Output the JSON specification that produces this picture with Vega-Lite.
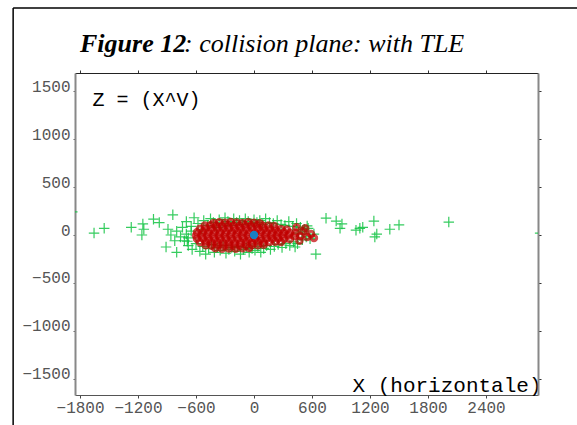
{
  "$schema": "https://vega.github.io/schema/vega-lite/v6.json",
  "width": 463,
  "height": 322,
  "autosize": {"type": "none"},
  "padding": {"left": 75, "top": 73, "right": 39, "bottom": 30},
  "background": "white",
  "title": {
    "text": "Figure 12",
    "subtitle": "\u200b\u00a0\u00a0\u00a0\u00a0\u00a0\u00a0\u00a0\u00a0\u00a0\u00a0\u00a0\u00a0\u00a0\u00a0\u00a0\u00a0: collision plane: with TLE",
    "anchor": "start",
    "frame": "group",
    "dx": 5,
    "dy": 63,
    "offset": 13,
    "font": "Liberation Serif",
    "fontSize": 26,
    "fontStyle": "italic",
    "fontWeight": "bold",
    "color": "black",
    "subtitleFont": "Liberation Serif",
    "subtitleFontSize": 26,
    "subtitleFontStyle": "italic",
    "subtitleFontWeight": "normal",
    "subtitleColor": "black",
    "subtitlePadding": -26
  },
  "datasets": {
    "green": [
      {"x": -1655, "z": 20}, {"x": -1550, "z": 70}, {"x": -1270, "z": 80}, {"x": -1150, "z": 115},
      {"x": -1140, "z": 60}, {"x": -1160, "z": 0}, {"x": -1040, "z": 165}, {"x": -980, "z": 130},
      {"x": -840, "z": 210}, {"x": -890, "z": 60}, {"x": -910, "z": -125}, {"x": -800, "z": -180},
      {"x": -690, "z": -65}, {"x": 745, "z": 175}, {"x": 850, "z": 145}, {"x": 910, "z": 115},
      {"x": 890, "z": 70}, {"x": 1055, "z": 50}, {"x": 1095, "z": 70}, {"x": 1125, "z": 80},
      {"x": 1240, "z": 145}, {"x": 1270, "z": 10}, {"x": 1250, "z": -20}, {"x": 1405, "z": 60},
      {"x": 1500, "z": 105}, {"x": 2015, "z": 135}, {"x": 640, "z": -200}, {"x": 550, "z": 95},
      {"x": 425, "z": -125}, {"x": -1880, "z": 240}, {"x": 2960, "z": 20},
      {"x": -700, "z": 140}, {"x": -650, "z": 90}, {"x": -620, "z": 180}, {"x": -580, "z": 120},
      {"x": -540, "z": 60}, {"x": -520, "z": 150}, {"x": -480, "z": 100}, {"x": -450, "z": 170},
      {"x": -420, "z": 130}, {"x": -390, "z": 80}, {"x": -360, "z": 160}, {"x": -330, "z": 120},
      {"x": -300, "z": 180}, {"x": -270, "z": 140}, {"x": -240, "z": 100}, {"x": -210, "z": 170},
      {"x": -180, "z": 130}, {"x": -150, "z": 150}, {"x": -120, "z": 110}, {"x": -90, "z": 170},
      {"x": -60, "z": 140}, {"x": -30, "z": 120}, {"x": 0, "z": 160}, {"x": 30, "z": 130},
      {"x": 60, "z": 150}, {"x": 90, "z": 110}, {"x": 120, "z": 170}, {"x": 160, "z": 130},
      {"x": 200, "z": 120}, {"x": 240, "z": 150}, {"x": 280, "z": 110}, {"x": 320, "z": 100},
      {"x": 360, "z": 140}, {"x": 400, "z": 90}, {"x": 440, "z": 120}, {"x": 480, "z": 80},
      {"x": 520, "z": 60},
      {"x": -720, "z": -60}, {"x": -680, "z": -110}, {"x": -640, "z": -150}, {"x": -600, "z": -90},
      {"x": -560, "z": -170}, {"x": -530, "z": -120}, {"x": -500, "z": -200}, {"x": -470, "z": -140},
      {"x": -440, "z": -100}, {"x": -410, "z": -180}, {"x": -380, "z": -130}, {"x": -350, "z": -160},
      {"x": -320, "z": -110}, {"x": -290, "z": -190}, {"x": -260, "z": -150}, {"x": -230, "z": -130},
      {"x": -200, "z": -170}, {"x": -170, "z": -120}, {"x": -140, "z": -200}, {"x": -110, "z": -150},
      {"x": -80, "z": -130}, {"x": -50, "z": -180}, {"x": -20, "z": -140}, {"x": 10, "z": -160},
      {"x": 40, "z": -120}, {"x": 70, "z": -180}, {"x": 100, "z": -140}, {"x": 130, "z": -110},
      {"x": 170, "z": -150}, {"x": 210, "z": -120}, {"x": 250, "z": -100}, {"x": 290, "z": -130},
      {"x": 330, "z": -90}, {"x": 370, "z": -110}, {"x": 410, "z": -70}, {"x": 450, "z": -90},
      {"x": 500, "z": -50}, {"x": 540, "z": -20},
      {"x": -800, "z": 40}, {"x": -760, "z": -20}, {"x": -740, "z": 80}, {"x": -820, "z": -60},
      {"x": -860, "z": 0}, {"x": -700, "z": 10}, {"x": -680, "z": -30}, {"x": -650, "z": 40},
      {"x": 460, "z": 20}, {"x": 500, "z": 40}, {"x": 560, "z": 70}, {"x": 580, "z": -40},
      {"x": 620, "z": 10}
    ],
    "tle": [
      {"x": -420, "z": 125}, {"x": -360, "z": 132}, {"x": -300, "z": 128}, {"x": -240, "z": 135},
      {"x": -180, "z": 130}, {"x": -120, "z": 126}, {"x": -60, "z": 133}, {"x": 0, "z": 128},
      {"x": 60, "z": 122},
      {"x": -510, "z": 98}, {"x": -450, "z": 103}, {"x": -390, "z": 100}, {"x": -330, "z": 96},
      {"x": -270, "z": 104}, {"x": -210, "z": 100}, {"x": -150, "z": 97}, {"x": -90, "z": 102},
      {"x": -30, "z": 99}, {"x": 30, "z": 101}, {"x": 90, "z": 96}, {"x": 150, "z": 100},
      {"x": 210, "z": 94},
      {"x": -560, "z": 65}, {"x": -500, "z": 68}, {"x": -440, "z": 62}, {"x": -380, "z": 66},
      {"x": -320, "z": 64}, {"x": -260, "z": 69}, {"x": -200, "z": 63}, {"x": -140, "z": 66},
      {"x": -80, "z": 61}, {"x": -20, "z": 67}, {"x": 40, "z": 64}, {"x": 100, "z": 62},
      {"x": 160, "z": 66}, {"x": 220, "z": 60}, {"x": 280, "z": 63}, {"x": 340, "z": 58},
      {"x": -590, "z": 30}, {"x": -530, "z": 33}, {"x": -470, "z": 28}, {"x": -410, "z": 31},
      {"x": -350, "z": 27}, {"x": -290, "z": 32}, {"x": -230, "z": 29}, {"x": -170, "z": 34},
      {"x": -110, "z": 28}, {"x": -50, "z": 31}, {"x": 10, "z": 27}, {"x": 70, "z": 33},
      {"x": 130, "z": 30}, {"x": 190, "z": 26}, {"x": 250, "z": 31}, {"x": 310, "z": 28},
      {"x": 370, "z": 24}, {"x": 430, "z": 20},
      {"x": -600, "z": -5}, {"x": -540, "z": -2}, {"x": -480, "z": -7}, {"x": -420, "z": -4},
      {"x": -360, "z": -8}, {"x": -300, "z": -3}, {"x": -240, "z": -6}, {"x": -180, "z": -2},
      {"x": -120, "z": -7}, {"x": -60, "z": -4}, {"x": 0, "z": -5}, {"x": 60, "z": -8},
      {"x": 120, "z": -3}, {"x": 180, "z": -6}, {"x": 240, "z": -4}, {"x": 300, "z": -9},
      {"x": 360, "z": -5}, {"x": 420, "z": -10}, {"x": 480, "z": -12},
      {"x": -590, "z": -40}, {"x": -530, "z": -37}, {"x": -470, "z": -43}, {"x": -410, "z": -39},
      {"x": -350, "z": -42}, {"x": -290, "z": -38}, {"x": -230, "z": -44}, {"x": -170, "z": -40},
      {"x": -110, "z": -36}, {"x": -50, "z": -41}, {"x": 10, "z": -38}, {"x": 70, "z": -43},
      {"x": 130, "z": -39}, {"x": 190, "z": -42}, {"x": 250, "z": -37}, {"x": 310, "z": -41},
      {"x": 370, "z": -45},
      {"x": -560, "z": -75}, {"x": -500, "z": -72}, {"x": -440, "z": -78}, {"x": -380, "z": -74},
      {"x": -320, "z": -77}, {"x": -260, "z": -73}, {"x": -200, "z": -79}, {"x": -140, "z": -75},
      {"x": -80, "z": -71}, {"x": -20, "z": -76}, {"x": 40, "z": -73}, {"x": 100, "z": -78},
      {"x": 160, "z": -74}, {"x": 220, "z": -70}, {"x": 280, "z": -72},
      {"x": -500, "z": -108}, {"x": -440, "z": -112}, {"x": -380, "z": -106}, {"x": -320, "z": -111},
      {"x": -260, "z": -109}, {"x": -200, "z": -113}, {"x": -140, "z": -107}, {"x": -80, "z": -110},
      {"x": -20, "z": -105}, {"x": 40, "z": -108}, {"x": 100, "z": -102},
      {"x": -400, "z": -138}, {"x": -330, "z": -142}, {"x": -260, "z": -140}, {"x": -190, "z": -143},
      {"x": -120, "z": -137}, {"x": -50, "z": -135},
      {"x": 510, "z": 40}, {"x": 550, "z": -20}, {"x": 590, "z": 10}, {"x": 470, "z": -60},
      {"x": 530, "z": 70}, {"x": 620, "z": -30}, {"x": 440, "z": 80}
    ],
    "center": [{"x": 0, "z": 0}]
  },
  "layer": [
    {
      "data": {"name": "green"},
      "mark": {"type": "point", "shape": "M-1,0H1M0,-1V1", "filled": false, "stroke": "#12c443", "strokeWidth": 1.2, "size": 110, "opacity": 0.85, "clip": true},
      "encoding": {
        "x": {
          "field": "x", "type": "quantitative",
          "scale": {"domain": [-1852, 2938], "nice": false, "zero": false},
          "axis": {
            "orient": "bottom", "values": [-1800, -1200, -600, 0, 600, 1200, 1800, 2400], "format": "d",
            "grid": false, "labelFont": "Liberation Mono", "labelFontSize": 16, "labelColor": "#555",
            "labelPadding": 1, "domainColor": "#555", "domainWidth": 1, "tickColor": "#444", "tickSize": 3,
            "title": "X (horizontale)", "titleFont": "Liberation Mono", "titleFontSize": 21, "titleFontWeight": "normal",
            "titleColor": "black", "titleX": 277, "titleY": -10, "titleAlign": "left", "titleBaseline": "middle", "titleAnchor": null
          }
        },
        "y": {
          "field": "z", "type": "quantitative",
          "scale": {"domain": [-1667, 1688], "nice": false, "zero": false},
          "axis": {
            "orient": "left", "values": [-1500, -1000, -500, 0, 500, 1000, 1500], "format": "d",
            "grid": false, "labelFont": "Liberation Mono", "labelFontSize": 16, "labelColor": "#555",
            "labelBaseline": "alphabetic", "labelPadding": 3, "domainColor": "#888", "domainWidth": 2,
            "tickColor": "#666", "tickSize": 2,
            "title": "Z = (X^V)", "titleFont": "Liberation Mono", "titleFontSize": 20, "titleFontWeight": "normal",
            "titleColor": "black", "titleAngle": 0, "titleX": 17, "titleY": 26, "titleAlign": "left", "titleBaseline": "middle", "titleAnchor": null
          }
        }
      }
    },
    {
      "data": {"name": "tle"},
      "mark": {"type": "point", "shape": "circle", "filled": false, "stroke": "#c00000", "strokeWidth": 3, "size": 30, "clip": true},
      "encoding": {
        "x": {
          "field": "x", "type": "quantitative",
          "scale": {"domain": [-1852, 2938], "nice": false, "zero": false},
          "axis": {"orient": "top", "values": [-1800, -1200, -600, 0, 600, 1200, 1800, 2400], "labels": false, "grid": false,
                   "domainColor": "#222", "domainWidth": 1, "tickColor": "#333", "tickSize": 3, "title": null}
        },
        "y": {
          "field": "z", "type": "quantitative",
          "scale": {"domain": [-1667, 1688], "nice": false, "zero": false},
          "axis": {"orient": "right", "values": [-1500, -1000, -500, 0, 500, 1000, 1500], "labels": false, "grid": false,
                   "domainColor": "#888", "domainWidth": 2, "tickColor": "#333", "tickSize": 3, "title": null}
        }
      }
    },
    {
      "data": {"name": "center"},
      "mark": {"type": "point", "shape": "circle", "filled": true, "fill": "#1a7fc4", "opacity": 1, "size": 70},
      "encoding": {
        "x": {"field": "x", "type": "quantitative", "scale": {"domain": [-1852, 2938], "nice": false, "zero": false}, "axis": null},
        "y": {"field": "z", "type": "quantitative", "scale": {"domain": [-1667, 1688], "nice": false, "zero": false}, "axis": null}
      }
    },
    {
      "data": {"values": [{}]},
      "mark": {"type": "rule", "color": "black", "strokeWidth": 1.5},
      "encoding": {
        "x": {"datum": -2492, "type": "quantitative", "scale": {"domain": [-1852, 2938], "nice": false, "zero": false}, "axis": null},
        "y": {"datum": 2365, "type": "quantitative", "scale": {"domain": [-1667, 1688], "nice": false, "zero": false}, "axis": null},
        "y2": {"datum": -3500}
      }
    },
    {
      "data": {"values": [{}]},
      "mark": {"type": "rule", "color": "black", "strokeWidth": 1.5},
      "encoding": {
        "x": {"datum": -2492, "type": "quantitative", "scale": {"domain": [-1852, 2938], "nice": false, "zero": false}, "axis": null},
        "x2": {"datum": 6000},
        "y": {"datum": 2365, "type": "quantitative", "scale": {"domain": [-1667, 1688], "nice": false, "zero": false}, "axis": null}
      }
    }
  ],
  "resolve": {"axis": {"x": "independent", "y": "independent"}},
  "config": {"view": {"stroke": null}}
}
